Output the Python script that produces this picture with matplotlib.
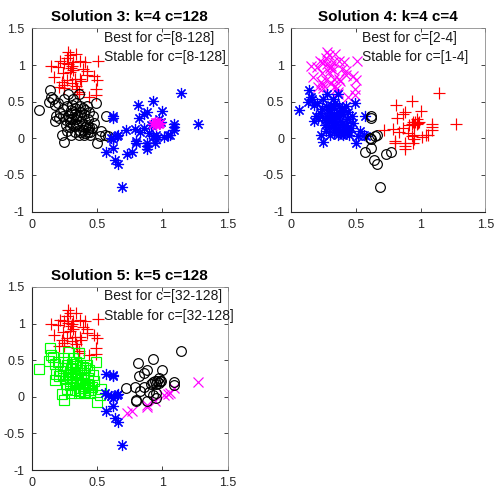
import numpy as np
import matplotlib
matplotlib.use("Agg")
from matplotlib import pyplot as plt

plt.rcParams['font.family'] = ['Liberation Sans', 'DejaVu Sans']

# point groups (same data, clustered differently in each solution)
top_pts = [(0.28, 1.18), (0.29, 1.14), (0.34, 1.15), (0.22, 1.05), (0.25, 1.03), (0.28, 1.01),
           (0.31, 0.99), (0.32, 1.04), (0.37, 1.05), (0.41, 1.04), (0.51, 1.06), (0.15, 0.99),
           (0.17, 0.84), (0.24, 0.89), (0.27, 0.80), (0.25, 0.73), (0.31, 0.76), (0.33, 0.81),
           (0.37, 0.81), (0.38, 0.78), (0.42, 0.92), (0.42, 0.87), (0.48, 0.85), (0.50, 0.80),
           (0.21, 0.70), (0.25, 0.69), (0.35, 0.67), (0.36, 0.63), (0.49, 0.59), (0.44, 0.57),
           (0.30, 0.96), (0.32, 0.93), (0.49, 0.67), (0.20, 0.98), (0.34, 0.72), (0.27, 1.10),
           (0.39, 0.95), (0.23, 0.77), (0.29, 0.90), (0.36, 0.60)]
mid_pts = [(0.06, 0.38), (0.14, 0.66), (0.15, 0.57), (0.16, 0.54), (0.13, 0.49), (0.18, 0.45),
           (0.18, 0.23), (0.22, 0.35), (0.23, 0.04), (0.25, 0.53), (0.27, 0.44), (0.28, 0.30),
           (0.29, 0.16), (0.30, 0.05), (0.30, 0.38), (0.32, 0.53), (0.33, 0.33), (0.34, 0.26),
           (0.36, 0.12), (0.37, 0.44), (0.38, 0.30), (0.39, 0.19), (0.41, 0.07), (0.41, 0.39),
           (0.42, 0.44), (0.43, 0.26), (0.44, 0.16), (0.45, 0.09), (0.48, 0.21), (0.47, 0.30),
           (0.50, -0.07), (0.52, 0.03), (0.53, 0.10), (0.20, 0.48), (0.21, 0.28), (0.24, 0.40),
           (0.26, 0.25), (0.27, 0.10), (0.29, 0.22), (0.31, 0.27), (0.32, 0.18), (0.33, 0.09),
           (0.35, 0.30), (0.35, 0.20), (0.36, 0.05), (0.38, 0.24), (0.39, 0.12), (0.40, 0.05),
           (0.40, 0.33), (0.42, 0.18), (0.43, 0.09), (0.44, 0.36), (0.46, 0.14), (0.30, 0.34),
           (0.31, 0.45), (0.34, 0.18), (0.37, 0.08), (0.38, 0.36), (0.26, 0.18), (0.28, 0.61),
           (0.33, 0.42), (0.36, 0.60), (0.41, 0.15), (0.45, 0.05), (0.24, 0.30), (0.19, 0.31),
           (0.34, 0.48), (0.39, 0.41), (0.29, 0.27), (0.43, 0.13), (0.25, -0.05), (0.49, 0.48)]
edge_pts = [(0.57, 0.31), (0.56, 0.05), (0.58, 0.03)]
lower_pts = [(0.62, 0.30), (0.62, 0.28), (0.61, 0.01), (0.62, -0.01), (0.65, 0.03), (0.66, 0.04),
             (0.62, -0.13), (0.57, -0.19), (0.64, -0.29), (0.66, -0.35), (0.69, -0.66)]
lowmid_pts = [(0.73, -0.22), (0.77, -0.19)]
rightlow_pts = [(0.88, -0.14), (0.88, -0.11), (0.94, -0.06), (1.01, 0.02), (1.04, 0.04),
                (1.06, 0.05), (1.09, 0.12), (1.27, 0.20)]
right_pts = [(1.14, 0.62), (0.93, 0.51), (0.81, 0.46), (1.00, 0.37), (0.88, 0.36), (0.82, 0.28),
             (0.86, 0.33), (0.72, 0.12), (0.79, 0.13), (0.86, 0.14), (0.90, 0.07), (0.95, 0.05),
             (1.09, 0.20), (1.09, 0.16), (0.80, -0.04), (0.80, -0.06), (0.88, -0.06), (0.95, -0.01),
             (0.91, 0.18), (0.97, 0.26), (0.99, 0.22), (0.93, 0.03), (0.83, 0.08)]
core_pts = [(0.93, 0.20), (0.95, 0.18), (0.96, 0.22), (0.97, 0.19), (0.98, 0.21), (0.94, 0.22)]

groups = [top_pts, mid_pts, edge_pts, lower_pts, lowmid_pts, rightlow_pts, right_pts, core_pts]

# cluster style for each group in each solution
sol3_labels = ['r+', 'ko', 'ko', 'b*', 'b*', 'b*', 'b*', 'm*']
sol4_labels = ['mx', 'b*', 'b*', 'ko', 'ko', 'r+', 'r+', 'r+']
sol5_labels = ['r+', 'gs', 'b*', 'b*', 'mx', 'mx', 'ko', 'ko']

titles = ["Solution 3: k=4 c=128", "Solution 4: k=4 c=4", "Solution 5: k=5 c=128"]
notes = ["Best for c=[8-128]\nStable for c=[8-128]",
         "Best for c=[2-4]\nStable for c=[1-4]",
         "Best for c=[32-128]\nStable for c=[32-128]"]

colors = {'r': '#ff0000', 'k': '#000000', 'b': '#0000ff', 'm': '#ff00ff', 'g': '#00ff00'}
markers = {'+': '+', 'o': 'o', '*': (8, 2, 0), 'x': 'x', 's': 's'}
sizes = {'+': 9, 'o': 7, '*': 8, 'x': 7, 's': 6.5}

fig = plt.figure(figsize=(5.01, 4.99), dpi=100)
positions = [[0.063, 0.576, 0.392, 0.367],
             [0.581, 0.576, 0.388, 0.367],
             [0.063, 0.058, 0.392, 0.367]]

for pos, labels, title, note in zip(positions, [sol3_labels, sol4_labels, sol5_labels], titles, notes):
    ax = fig.add_axes(pos)
    for pts, lab in zip(groups, labels):
        arr = np.array(pts)
        c = colors[lab[0]]
        m = lab[1]
        ax.plot(arr[:, 0], arr[:, 1], linestyle='none', marker=markers[m], markersize=sizes[m],
                markerfacecolor='none', markeredgecolor=c, markeredgewidth=0.85)
    ax.set_xlim(0, 1.5)
    ax.set_ylim(-1, 1.5)
    ax.set_xticks([0, 0.5, 1, 1.5])
    ax.set_xticklabels(['0', '0.5', '1', '1.5'])
    ax.set_yticks([-1, -0.5, 0, 0.5, 1, 1.5])
    ax.set_yticklabels(['-1', '-0.5', '0', '0.5', '1', '1.5'])
    ax.tick_params(direction='in', length=3, width=0.6, labelsize=9, colors='#262626',
                   top=True, right=True, pad=5)
    for side in ['left', 'bottom']:
        ax.spines[side].set_color('#262626')
        ax.spines[side].set_linewidth(0.8)
    for side in ['top', 'right']:
        ax.spines[side].set_color('#8c8c8c')
        ax.spines[side].set_linewidth(0.6)
    ax.set_title(title, fontsize=11, fontweight='bold', family=['Liberation Sans Narrow', 'Liberation Sans'],
                 pad=5)
    ax.text(0.55, 1.47, note, fontsize=10, va='top', ha='left', color='#1a1a1a', linespacing=1.5)

plt.savefig("out.png", dpi=100)
